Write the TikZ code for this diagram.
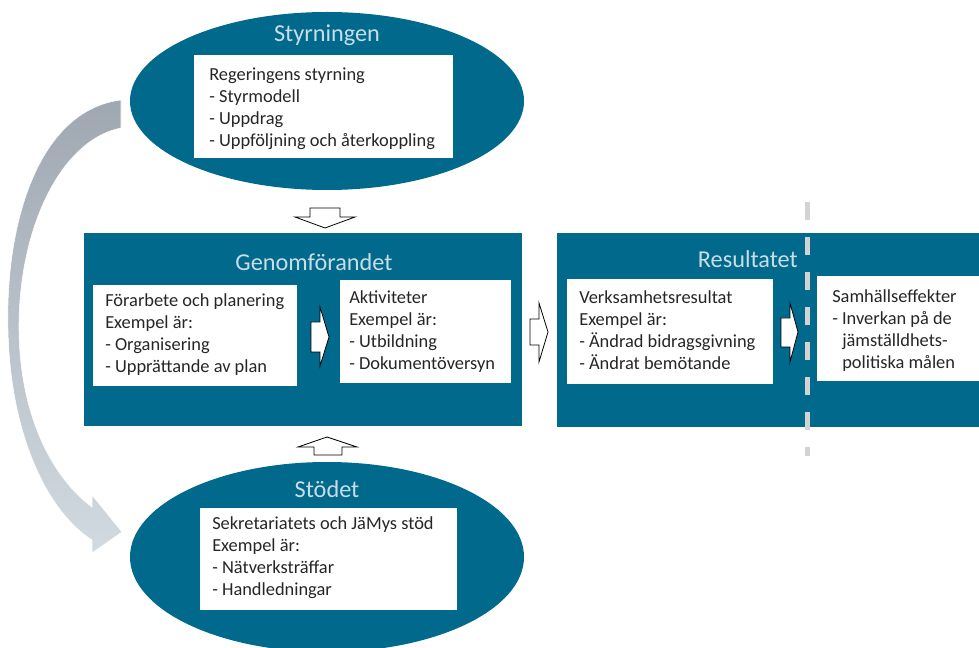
\documentclass[tikz,border=0pt]{standalone}
\usepackage{fontspec}
\setmainfont{Carlito}
\definecolor{teal}{HTML}{00698C}
\definecolor{ttl}{HTML}{C8DEE7}
\definecolor{gtop}{HTML}{9FA8B1}
\definecolor{gbot}{HTML}{D2DAE1}
\definecolor{dashc}{HTML}{D3D3D3}
\begin{document}
\begin{tikzpicture}[x=0.75pt,y=-0.75pt,
  bluebg/.style={fill=teal,draw=none},
  whitebox/.style={fill=white,draw=none},
  body/.style={anchor=north west,inner sep=0pt,align=left,font=\fontsize{13.8}{16.5}\selectfont,text=black!85},
  title/.style={inner sep=0pt,font=\fontsize{18.2}{21}\selectfont,text=ttl},
  blockarrow/.style={fill=white,draw=black,line width=0.6pt,line join=miter}]
\useasboundingbox (0,0) rectangle (979,648);
\begin{scope}
\clip (0,0) rectangle (979,648);
% curved gray arrow
\shade[top color=gtop,bottom color=gbot,draw=white,line width=0.4pt]
  (121,100) .. controls (40,110) and (5,220) .. (8,330)
  .. controls (10,430) and (45,510) .. (92,540)
  -- (92,553) -- (122,532) -- (92,495) -- (92,507)
  .. controls (55,480) and (20,420) .. (19,330)
  .. controls (18,230) and (60,140) .. (121,128) -- cycle;
% ellipses
\fill[teal] (327,101) ellipse [x radius=197, y radius=89];
\fill[teal] (327,557) ellipse [x radius=197, y radius=95];
% big rectangles
\node[bluebg,minimum width=438*0.75pt,minimum height=193*0.75pt,inner sep=0pt,anchor=north west] (gen) at (84,233) {};
\node[bluebg,minimum width=423*0.75pt,minimum height=194*0.75pt,inner sep=0pt,anchor=north west] (res) at (557,233) {};
% dashed separator
\draw[dashc,line width=3.75pt,dash pattern=on 13.5pt off 12.75pt] (807,202) -- (807,456);
% white boxes
\node[whitebox,minimum width=259*0.75pt,minimum height=103*0.75pt,inner sep=0pt,anchor=north west] (styrbox) at (194,55) {};
\node[whitebox,minimum width=204*0.75pt,minimum height=101*0.75pt,inner sep=0pt,anchor=north west] (forbox) at (93,285) {};
\node[whitebox,minimum width=171*0.75pt,minimum height=103*0.75pt,inner sep=0pt,anchor=north west] (aktbox) at (340,280) {};
\node[whitebox,minimum width=206*0.75pt,minimum height=105*0.75pt,inner sep=0pt,anchor=north west] (verbox) at (567,279) {};
\node[whitebox,minimum width=163*0.75pt,minimum height=105*0.75pt,inner sep=0pt,anchor=north west] (samhbox) at (817,276) {};
\node[whitebox,minimum width=257*0.75pt,minimum height=102*0.75pt,inner sep=0pt,anchor=north west] (stodbox) at (200,508) {};
% titles
\node[title] (tstyr) at (327,35) {Styrningen};
\node[title] (tgen) at (314,262) {Genomförandet};
\node[title,anchor=east] (tres) at (798,259) {Resultatet};
\node[title] (tstod) at (327,489) {Stödet};
% texts
\node[body] (xstyr) at (209,65) {\strut Regeringens styrning\\- Styrmodell\\- Uppdrag\\- Uppföljning och återkoppling};
\node[body] (xfor) at (105,291) {\strut Förarbete och planering\\Exempel är:\\- Organisering\\- Upprättande av plan};
\node[body] (xakt) at (349,288) {\strut Aktiviteter\\Exempel är:\\- Utbildning\\- Dokumentöversyn};
\node[body] (xver) at (579,288) {\strut Verksamhetsresultat\\Exempel är:\\- Ändrad bidragsgivning\\- Ändrat bemötande};
\node[body] (xsamh) at (832,287) {\strut Samhällseffekter\\- Inverkan på de\\\hspace*{7.5pt}jämställdhets-\\\hspace*{7.5pt}politiska målen};
\node[body] (xstod) at (212,514) {\strut Sekretariatets och JäMys stöd\\Exempel är:\\- Nätverksträffar\\- Handledningar};
% block arrows
\draw[blockarrow] (310,208) -- (340,208) -- (340,217) -- (355,217) -- (325,228) -- (295,217) -- (310,217) -- cycle;
\draw[blockarrow] (314,455) -- (342,455) -- (342,447) -- (357,447) -- (327,437) -- (298,447) -- (314,447) -- cycle;
\draw[blockarrow] (530,319) -- (539,319) -- (539,303) -- (548,332) -- (539,362) -- (539,345) -- (530,345) -- cycle;
\draw[blockarrow] (311,322) -- (320,322) -- (320,307) -- (329,337) -- (320,366) -- (320,352) -- (311,352) -- cycle;
\draw[blockarrow] (781,318) -- (790,318) -- (790,303) -- (798,332) -- (790,362) -- (790,347) -- (781,347) -- cycle;
\end{scope}
\end{tikzpicture}
\end{document}
